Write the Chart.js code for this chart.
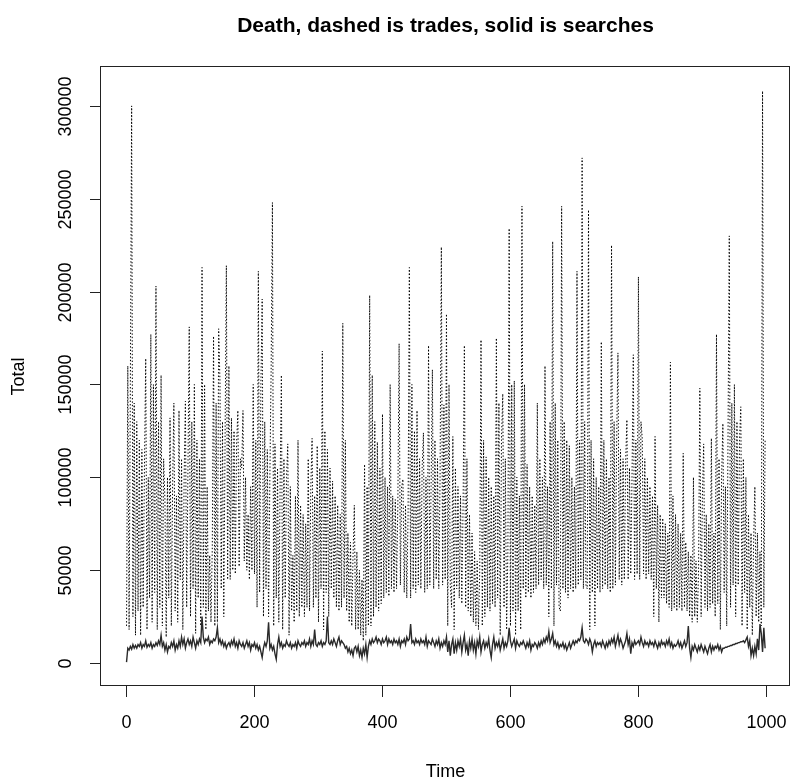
<!DOCTYPE html>
<html>
<head>
<meta charset="utf-8">
<script src="https://cdn.jsdelivr.net/npm/chart.js@4.4.1/dist/chart.umd.min.js"></script>
<style>
  html, body { margin: 0; padding: 0; background: #fff; }
  canvas { display: block; }
</style>
</head>
<body>
<canvas id="chartDeath" width="791" height="784"></canvas>
<script>
// trades per time step (thousands), one row = 20 time units
const tradesK = [
  20, 160, 18, 150, 300, 25, 140, 15, 130, 28,
  120, 15, 115, 30, 105, 164, 18, 100, 35, 177,
  22, 150, 38, 203, 18, 130, 30, 155, 20, 110,
  88, 14, 100, 35, 132, 20, 95, 140, 28, 90,
  22, 136, 45, 110, 18, 100, 141, 30, 105, 181,
  25, 130, 40, 150, 16, 120, 35, 110, 20, 213,
  30, 150, 18, 95, 28, 58, 22, 62, 176, 20,
  140, 22, 180, 152, 40, 130, 25, 120, 214, 45,
  160, 45, 132, 50, 125, 48, 118, 136, 52, 110,
  105, 136, 55, 100, 50, 80, 45, 95, 50, 150,
  48, 120, 30, 211, 38, 150, 196, 25, 130, 40,
  115, 25, 100, 158, 248, 20, 118, 35, 105, 22,
  95, 155, 18, 110, 35, 100, 118, 15, 95, 28,
  58, 22, 90, 28, 120, 25, 85, 30, 80, 25,
  75, 30, 110, 28, 95, 121, 30, 90, 35, 117,
  22, 105, 40, 168, 18, 125, 38, 115, 25, 105,
  40, 98, 35, 90, 30, 85, 28, 80, 30, 183,
  35, 120, 28, 70, 22, 65, 20, 58, 85, 18,
  60, 18, 50, 15, 45, 12, 107, 15, 95, 20,
  198, 20, 155, 25, 130, 30, 119, 28, 105, 32,
  134, 35, 100, 38, 95, 36, 150, 40, 90, 38,
  88, 40, 85, 172, 42, 95, 99, 38, 85, 35,
  80, 213, 35, 150, 40, 125, 38, 136, 42, 110,
  40, 105, 124, 38, 100, 40, 171, 42, 95, 158,
  40, 120, 45, 110, 40, 100, 224, 42, 139, 45,
  188, 20, 150, 42, 30, 122, 18, 105, 40, 95,
  35, 90, 32, 85, 171, 30, 110, 28, 80, 25,
  70, 22, 60, 20, 55, 18, 50, 174, 20, 120,
  25, 111, 30, 100, 28, 95, 32, 90, 30, 175,
  35, 140, 15, 120, 145, 30, 110, 18, 60, 234,
  20, 150, 28, 152, 15, 100, 28, 90, 18, 246,
  40, 150, 35, 107, 38, 95, 35, 90, 38, 85,
  40, 140, 42, 110, 45, 100, 40, 160, 42, 95,
  25, 130, 40, 227, 20, 140, 42, 120, 30, 28,
  246, 40, 130, 38, 120, 35, 117, 40, 100, 38,
  95, 40, 211, 42, 120, 45, 272, 40, 130, 42,
  40, 244, 18, 120, 38, 110, 20, 100, 40, 95,
  38, 173, 40, 120, 42, 110, 40, 100, 38, 225,
  40, 130, 42, 120, 167, 45, 115, 42, 110, 45,
  108, 131, 45, 105, 48, 100, 166, 45, 120, 48,
  208, 45, 130, 121, 48, 110, 45, 100, 48, 95,
  45, 90, 25, 122, 40, 85, 22, 80, 35, 78,
  35, 75, 32, 70, 30, 162, 28, 90, 30, 80,
  28, 75, 30, 70, 28, 113, 30, 65, 28, 60,
  25, 58, 22, 100, 25, 55, 22, 50, 148, 25,
  90, 118, 30, 80, 28, 75, 30, 121, 32, 70,
  25, 177, 32, 110, 18, 100, 129, 38, 95, 20,
  120, 230, 30, 140, 42, 150, 25, 130, 42, 120,
  138, 20, 110, 38, 100, 18, 80, 30, 70, 15,
  65, 95, 25, 70, 22, 60, 20, 308, 30, 120
];

// searches per time step (thousands)
const searchesK = [
  0.5, 8, 7, 9, 7.5, 10, 8, 9.5, 8, 10,
  9, 11, 8, 10, 9, 12, 8.5, 10, 9, 11,
  8, 10, 9, 11, 9.5, 12, 10, 15, 9, 11,
  7, 10, 6, 9, 8, 11, 9, 12, 7, 10,
  8, 12, 9, 14, 10, 13, 8, 11, 13, 10,
  12, 9, 14, 11, 8, 12, 10, 13, 11, 25,
  14, 11, 13, 12, 14, 10, 12, 11, 13, 12,
  14, 19, 11, 13, 10, 12, 9, 11, 8, 10,
  11, 9, 12, 10, 13, 9, 11, 8, 12, 10,
  9, 11, 8, 10, 12, 9, 11, 7, 10, 9,
  11, 8, 10, 7, 9, 6, 3, 8, 11, 9,
  12, 22, 8, 10, 7, 9, 5, 2, 10, 14,
  9, 11, 8, 10, 9, 12, 10, 9, 11, 8,
  10, 9, 11, 8, 12, 10, 9, 11, 10, 12,
  9, 11, 10, 13, 9, 12, 10, 18, 10, 9,
  11, 10, 12, 9, 11, 10, 12, 25, 11, 10,
  12, 10, 13, 11, 9, 12, 14, 10, 12, 11,
  10, 8, 9, 6, 8, 5, 7, 4, 8, 9,
  6, 9, 4, 7, 3, 8, 5, 10, 3, 9,
  12, 10, 13, 11, 12, 14, 11, 13, 12, 10,
  13, 11, 12, 14, 10, 13, 11, 12, 10, 13,
  11, 12, 10, 13, 9, 12, 11, 13, 10, 14,
  12, 13, 21, 11, 12, 10, 13, 11, 12, 10,
  13, 11, 12, 10, 14, 9, 12, 11, 10, 13,
  11, 9, 12, 10, 13, 8, 11, 9, 12, 10,
  14, 6, 12, 4, 10, 13, 5, 11, 7, 12,
  9, 13, 6, 11, 15, 7, 10, 4, 12, 8,
  13, 7, 11, 5, 12, 9, 14, 6, 10, 12,
  8, 11, 9, 13, 7, 3, 10, 14, 8, 11,
  9, 12, 7, 10, 13, 8, 11, 9, 12, 19,
  12, 9, 11, 13, 8, 12, 10, 9, 11, 10,
  12, 10, 8, 11, 9, 12, 7, 10, 9, 11,
  10, 8, 11, 9, 12, 10, 13, 11, 14, 12,
  17, 11, 13, 16, 10, 12, 9, 11, 8, 10,
  9, 11, 8, 10, 7, 9, 11, 8, 10, 12,
  10, 12, 11, 13, 12, 14, 19, 12, 11, 13,
  12, 10, 13, 11, 6, 10, 12, 9, 11, 10,
  11, 9, 12, 10, 8, 11, 9, 12, 10, 13,
  11, 14, 9, 12, 15, 10, 13, 11, 8, 10,
  12, 16, 10, 13, 5, 11, 9, 12, 10, 11,
  12, 10, 14, 11, 9, 12, 10, 11, 9, 12,
  10, 11, 9, 12, 10, 8, 11, 9, 12, 10,
  11, 9, 12, 10, 13, 9, 11, 8, 10, 9,
  10, 12, 9, 11, 8, 10, 12, 9, 11, 20,
  8, 3, 9, 7, 10, 8, 6, 9, 7, 10,
  8, 6, 9, 7, 5, 8, 10, 6, 9, 7,
  9, 8, 10, 7, 9, 6, 8, 8, 8.5, 8.5,
  9, 9, 9.5, 9.5, 10, 10, 10.5, 10.5, 11, 11,
  11.5, 11.5, 12, 11, 12.5, 14, 9, 12, 4, 8,
  4, 9, 5, 13, 7, 21, 16, 6, 19, 8
];

const xTicks = [0, 200, 400, 600, 800, 1000];
const yTicks = [0, 50000, 100000, 150000, 200000, 250000, 300000];

const titleText = 'Death, dashed is trades, solid is searches';
const xTitle = 'Time';
const yTitle = 'Total';

// one value every 2 time units
const time = tradesK.map((_, i) => 1 + 2 * i);

const fontFamily = '"Liberation Sans", Arial, Helvetica, sans-serif';

// R style frame, ticks and labels
const rAxes = {
  id: 'rAxes',
  afterDraw(chart) {
    const ctx = chart.ctx;
    const { left, right, top, bottom } = chart.chartArea;
    const xs = chart.scales.x;
    const ys = chart.scales.y;

    ctx.save();
    ctx.strokeStyle = '#222';
    ctx.lineWidth = 1;
    ctx.strokeRect(left - 0.5, top - 0.5, right - left, bottom - top);

    ctx.fillStyle = '#000';
    ctx.font = '18px ' + fontFamily;
    ctx.textAlign = 'center';
    ctx.textBaseline = 'middle';

    xTicks.forEach(t => {
      const px = Math.round(xs.getPixelForValue(t)) + 0.5;
      ctx.beginPath();
      ctx.moveTo(px, bottom);
      ctx.lineTo(px, bottom + 11);
      ctx.stroke();
      ctx.fillText(String(t), px, bottom + 37);
    });

    yTicks.forEach(v => {
      const py = Math.round(ys.getPixelForValue(v)) + 0.5;
      ctx.beginPath();
      ctx.moveTo(left, py);
      ctx.lineTo(left - 11, py);
      ctx.stroke();
      ctx.save();
      ctx.translate(66, py);
      ctx.rotate(-Math.PI / 2);
      ctx.fillText(String(v), 0, 0);
      ctx.restore();
    });

    const cx = (left + right) / 2;
    ctx.fillText(xTitle, cx, 772);

    ctx.save();
    ctx.translate(19, (top + bottom) / 2);
    ctx.rotate(-Math.PI / 2);
    ctx.fillText(yTitle, 0, 0);
    ctx.restore();

    ctx.font = 'bold 21px ' + fontFamily;
    ctx.fillText(titleText, cx, 26);
    ctx.restore();
  }
};

const ctx = document.getElementById('chartDeath').getContext('2d');

const myChart = new Chart(ctx, {
  type: 'line',
  data: {
    datasets: [
      {
        label: 'searches',
        data: time.map((t, i) => ({ x: t, y: searchesK[i] * 1000 })),
        borderColor: '#2a2a2a',
        borderWidth: 1.4,
        pointRadius: 0,
        tension: 0,
        fill: false,
        order: 0
      },
      {
        label: 'trades',
        data: time.map((t, i) => ({ x: t, y: tradesK[i] * 1000 })),
        borderColor: '#000',
        borderWidth: 1,
        borderDash: [1.4, 2],
        pointRadius: 0,
        tension: 0,
        fill: false,
        order: 1
      }
    ]
  },
  options: {
    responsive: false,
    animation: false,
    devicePixelRatio: 1,
    layout: {
      padding: { left: 101, top: 67, right: 1, bottom: 98 }
    },
    plugins: {
      legend: { display: false },
      tooltip: { enabled: false },
      title: { display: false }
    },
    scales: {
      x: { type: 'linear', min: -38.9, max: 1037.9, display: false },
      y: { type: 'linear', min: -12344, max: 320944, display: false }
    }
  },
  plugins: [rAxes]
});
</script>
</body>
</html>
